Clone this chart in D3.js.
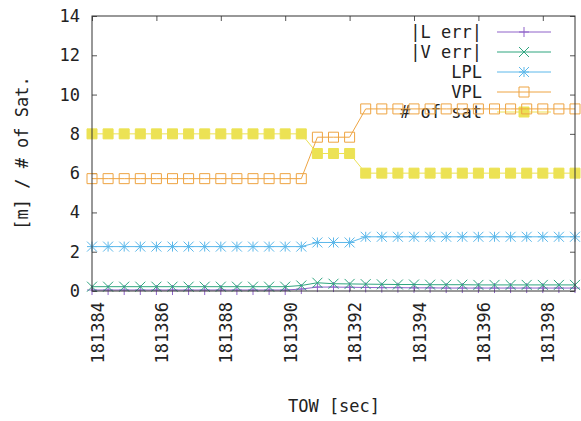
<!DOCTYPE html>
<html>
<head>
<meta charset="utf-8">
<script src="https://cdn.jsdelivr.net/npm/d3@7"></script>
<style>
  html, body { margin: 0; padding: 0; background: #fff; }
  svg { display: block; font-family: "DejaVu Sans Mono", monospace; }
</style>
</head>
<body>
<svg id="chart"></svg>
<script>
// TOW [sec], one sample every 0.5 s
const tow = [
  181384, 181384.5, 181385, 181385.5, 181386, 181386.5, 181387, 181387.5,
  181388, 181388.5, 181389, 181389.5, 181390, 181390.5, 181391, 181391.5,
  181392, 181392.5, 181393, 181393.5, 181394, 181394.5, 181395, 181395.5,
  181396, 181396.5, 181397, 181397.5, 181398, 181398.5, 181399
];
const lErr = [
  0.05, 0.05, 0.05, 0.05, 0.05, 0.05, 0.05, 0.05, 0.05, 0.05, 0.05, 0.05, 0.05, 0.10,
  0.20, 0.20, 0.19, 0.18, 0.17, 0.17, 0.16, 0.16, 0.15, 0.15, 0.15, 0.15, 0.15, 0.15,
  0.15, 0.15, 0.15
];
const vErr = [
  0.22, 0.22, 0.22, 0.22, 0.22, 0.22, 0.22, 0.22, 0.22, 0.22, 0.22, 0.22, 0.22, 0.28,
  0.42, 0.37, 0.36, 0.35, 0.34, 0.33, 0.33, 0.32, 0.32, 0.32, 0.31, 0.31, 0.31, 0.31,
  0.31, 0.31, 0.31
];
const lpl = [
  2.26, 2.26, 2.26, 2.26, 2.26, 2.26, 2.26, 2.26, 2.26, 2.26, 2.26, 2.26, 2.26, 2.26,
  2.47, 2.47, 2.47, 2.76, 2.76, 2.76, 2.76, 2.76, 2.76, 2.76, 2.76, 2.76, 2.76, 2.76,
  2.76, 2.76, 2.76
];
const vpl = [
  5.72, 5.72, 5.72, 5.72, 5.72, 5.72, 5.72, 5.72, 5.72, 5.72, 5.72, 5.72, 5.72, 5.72,
  7.83, 7.83, 7.83, 9.27, 9.27, 9.27, 9.27, 9.27, 9.27, 9.27, 9.27, 9.27, 9.27, 9.27,
  9.27, 9.27, 9.27
];
const nSat = [
  8, 8, 8, 8, 8, 8, 8, 8, 8, 8, 8, 8, 8, 8,
  7, 7, 7, 6, 6, 6, 6, 6, 6, 6, 6, 6, 6, 6,
  6, 6, 6
];
const seriesNames = ["|L err|", "|V err|", "LPL", "VPL", "# of sat"];
const xTicks = [181384, 181386, 181388, 181390, 181392, 181394, 181396, 181398];
const yTicks = [0, 2, 4, 6, 8, 10, 12, 14];

const w = 581;
const h = 421;
const pLeft = 92, pRight = 575, pTop = 16, pBottom = 291;

const series = [
  { name: seriesNames[0], values: lErr, color: "#8f63c9", pt: "plus" },
  { name: seriesNames[1], values: vErr, color: "#2fa57f", pt: "cross" },
  { name: seriesNames[2], values: lpl, color: "#5cb8ea", pt: "star" },
  { name: seriesNames[3], values: vpl, color: "#eea442", pt: "box" },
  { name: seriesNames[4], values: nSat, color: "#ece254", pt: "fbox" }
];

const xScale = d3.scaleLinear().domain([181384, 181399]).range([pLeft, pRight]);
const yScale = d3.scaleLinear().domain([0, 14]).range([pBottom, pTop]);

const svg = d3.select("#chart").attr("width", w).attr("height", h);

// point shapes like gnuplot's pt 1..5
const r = 5;
const shapes = {
  plus: `M${-r},0H${r}M0,${-r}V${r}`,
  cross: `M${-r},${-r}L${r},${r}M${-r},${r}L${r},${-r}`,
  star: `M${-r},0H${r}M0,${-r}V${r}M${-r},${-r}L${r},${r}M${-r},${r}L${r},${-r}`,
  box: `M${-r},${-r}H${r}V${r}H${-r}Z`,
  fbox: `M${-r},${-r}H${r}V${r}H${-r}Z`
};

// axes (ticks inside, mirrored)
const yAxis = svg.append("g")
  .attr("transform", `translate(${pLeft},0)`)
  .call(d3.axisLeft(yScale).tickValues(yTicks).tickSize(-5).tickPadding(12));
const yAxis2 = svg.append("g")
  .attr("transform", `translate(${pRight},0)`)
  .call(d3.axisRight(yScale).tickValues(yTicks).tickSize(-5).tickFormat(""));
const xAxis = svg.append("g")
  .attr("transform", `translate(0,${pBottom})`)
  .call(d3.axisBottom(xScale).tickValues(xTicks).tickSize(-5).tickFormat(d3.format("d")));
const xAxis2 = svg.append("g")
  .attr("transform", `translate(0,${pTop})`)
  .call(d3.axisTop(xScale).tickValues(xTicks).tickSize(-5).tickFormat(""));

[yAxis, yAxis2, xAxis, xAxis2].forEach(g => {
  g.select(".domain").remove();
  g.selectAll("line").attr("stroke", "#555");
  g.selectAll("text")
    .attr("fill", "#222")
    .style("font-family", "'DejaVu Sans Mono', monospace")
    .style("font-size", "17px");
});

xAxis.selectAll("text")
  .attr("transform", "rotate(-90)")
  .attr("text-anchor", "end")
  .attr("x", -11)
  .attr("y", 11)
  .attr("dy", null);

// legend
const legend = svg.append("g");
const leg = legend.selectAll("g")
  .data(series)
  .enter()
  .append("g")
  .attr("transform", (d, i) => `translate(0,${32 + i * 20})`);
leg.append("text")
  .attr("x", 482)
  .attr("y", 6)
  .attr("text-anchor", "end")
  .attr("fill", "#222")
  .style("font-size", "17px")
  .text(d => d.name);
leg.append("line")
  .attr("x1", 497).attr("x2", 551)
  .attr("stroke", d => d.color)
  .attr("stroke-width", 1);
leg.append("path")
  .attr("transform", "translate(524,0)")
  .attr("d", d => shapes[d.pt])
  .attr("fill", d => d.pt === "fbox" ? d.color : "none")
  .attr("stroke", d => d.color)
  .attr("stroke-width", 1);

// series
const line = d3.line()
  .x((d, i) => xScale(tow[i]))
  .y(d => yScale(d));

const plot = svg.append("g");
series.forEach(s => {
  const g = plot.append("g");
  g.append("path")
    .datum(s.values)
    .attr("fill", "none")
    .attr("stroke", s.color)
    .attr("stroke-width", 1)
    .attr("d", line);
  g.selectAll("path.pt")
    .data(s.values)
    .enter()
    .append("path")
    .attr("class", "pt")
    .attr("transform", (d, i) => `translate(${xScale(tow[i])},${yScale(d)})`)
    .attr("d", shapes[s.pt])
    .attr("fill", s.pt === "fbox" ? s.color : "none")
    .attr("stroke", s.color)
    .attr("stroke-width", 1);
});

// border
svg.append("rect")
  .attr("x", pLeft).attr("y", pTop)
  .attr("width", pRight - pLeft).attr("height", pBottom - pTop)
  .attr("fill", "none")
  .attr("stroke", "#333")
  .attr("stroke-width", 1);

// axis labels
svg.append("text")
  .attr("x", 334)
  .attr("y", 412)
  .attr("text-anchor", "middle")
  .attr("fill", "#222")
  .style("font-size", "17px")
  .text("TOW [sec]");

svg.append("text")
  .attr("transform", "translate(28,153) rotate(-90)")
  .attr("text-anchor", "middle")
  .attr("fill", "#222")
  .style("font-size", "17px")
  .text("[m] / # of Sat.");
</script>
</body>
</html>
